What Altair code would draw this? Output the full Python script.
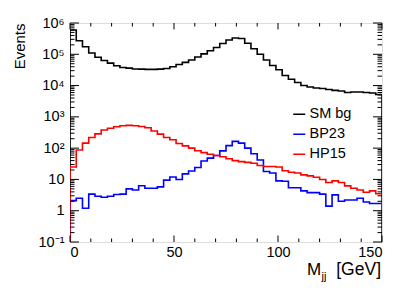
import altair as alt
import pandas as pd

# ---- data (50 bins of 3 GeV, 0..150 GeV) ----
bin_width = 3
sm_bg = [6.0e5, 2.7e5, 1.75e5, 1.1e5, 8.0e4, 6.3e4, 5.2e4, 4.3e4, 3.8e4, 3.6e4,
         3.4e4, 3.35e4, 3.3e4, 3.3e4, 3.35e4, 3.5e4, 4.0e4, 4.7e4, 5.5e4, 6.6e4,
         8.2e4, 1.03e5, 1.3e5, 1.65e5, 2.2e5, 2.85e5, 3.3e5, 3.2e5, 2.25e5, 1.5e5,
         1.0e5, 6.6e4, 4.4e4, 3.2e4, 2.1e4, 1.6e4, 1.25e4, 1.0e4, 9.0e3, 8.4e3,
         8.1e3, 7.5e3, 7.0e3, 6.7e3, 6.0e3, 6.2e3, 6.2e3, 6.0e3, 5.8e3, 5.2e3]
bp23 = [2.1, 2.5, 1.2, 3.4, 2.9, 2.7, 2.9, 3.3, 3.4, 5.0,
        4.6, 6.3, 5.2, 5.2, 5.8, 9.5, 12, 10, 15, 18.5,
        24, 39, 48, 58, 82, 120, 165, 145, 100, 66,
        42, 18, 16, 9, 8.7, 5.4, 5.4, 4.3, 3.8, 3.8,
        3.4, 1.4, 3.2, 2.0, 2.2, 2.2, 2.5, 1.9, 1.7, 1.7]
hp15 = [25, 87, 145, 220, 285, 380, 430, 485, 520, 535,
        520, 490, 450, 355, 280, 220, 185, 140, 118, 100,
        83, 72, 64, 58, 53, 46, 40, 37, 35, 33,
        28, 26, 26, 25, 19, 17, 16, 14, 13, 11.8,
        10, 8, 9, 8, 6.2, 5.2, 4.6, 3.9, 4.3, 3.5]
series_names = ["SM bg", "BP23", "HP15"]
series_colors = ["#000000", "#0000ff", "#ff0000"]
y_min, y_max = 0.1, 1e6
x_min, x_max = 0, 150

W, H = 312, 219
FONT = "Liberation Sans"

rows = []
for name, vals in zip(series_names, [sm_bg, bp23, hp15]):
    pts = [(0, y_min)]
    for i, v in enumerate(vals):
        pts.append((i * bin_width, v))
    pts.append((len(vals) * bin_width, vals[-1]))
    pts.append((len(vals) * bin_width, y_min))
    for k, (xx, yy) in enumerate(pts):
        rows.append({"series": name, "x": xx, "y": yy, "o": k})
df = pd.DataFrame(rows)

xs = alt.Scale(domain=[x_min, x_max], nice=False, zero=False)
ys = alt.Scale(type="log", domain=[y_min, y_max], nice=False)
cs = alt.Scale(domain=series_names, range=series_colors)

label_expr = ("datum.value == 1 ? '1' : datum.value == 10 ? '10' : "
              "datum.value < 0.5 ? '10⁻¹' : datum.value == 100 ? '10²' : "
              "datum.value == 1000 ? '10³' : datum.value == 10000 ? '10⁴' : "
              "datum.value == 100000 ? '10⁵' : '10⁶'")

def hist_layer(name):
    return alt.Chart(df).transform_filter(alt.datum.series == name).mark_line(
        interpolate="step-after", strokeWidth=1.6, clip=True
    ).encode(
        x=alt.X("x:Q", scale=xs, axis=alt.Axis(values=[0, 50, 100, 150], ticks=False, grid=False,
                                                domain=False, labelFontSize=14.5, labelFont=FONT,
                                                labelColor="black", labelPadding=3, title=None)),
        y=alt.Y("y:Q", scale=ys, axis=alt.Axis(values=[0.1, 1, 10, 100, 1e3, 1e4, 1e5, 1e6],
                                                labelExpr=label_expr, ticks=False, grid=False,
                                                domain=False, labelFontSize=14.5, labelFont=FONT,
                                                labelColor="black", labelPadding=6,
                                                title="Events", titleFont=FONT, titleFontSize=15,
                                                titleFontWeight="normal", titleColor="black",
                                                titleAnchor="end", titleAngle=270,
                                                titleAlign="right", titleBaseline="alphabetic",
                                                titleX=-46, titleY=0)),
        color=alt.Color("series:N", scale=cs, legend=alt.Legend(
            orient="none", legendX=222, legendY=84, title=None, symbolType="stroke",
            symbolStrokeWidth=1.5, symbolSize=144, labelFontSize=14.5, labelFont=FONT,
            labelColor="black", labelOffset=3, rowPadding=5, padding=0)),
        order="o:Q",
    )

xt_major = pd.DataFrame({"v": [v for v in range(0, 151, 50)]})
xt_minor = pd.DataFrame({"v": [v for v in range(0, 151, 10) if v % 50 != 0]})
yt_major = pd.DataFrame({"v": [0.1, 1, 10, 100, 1e3, 1e4, 1e5, 1e6]})
yt_minor = pd.DataFrame({"v": [m * 10.0 ** k for k in range(-1, 6) for m in range(2, 10)]})

def xticks(d, ln):
    b = alt.Chart(d).mark_rule(color="black", strokeWidth=1).encode(
        x=alt.X("v:Q", scale=xs), y=alt.value(H), y2=alt.value(H - ln))
    t = alt.Chart(d).mark_rule(color="black", strokeWidth=1).encode(
        x=alt.X("v:Q", scale=xs), y=alt.value(0), y2=alt.value(ln))
    return [b, t]

def yticks(d, ln):
    l = alt.Chart(d).mark_rule(color="black", strokeWidth=1).encode(
        y=alt.Y("v:Q", scale=ys), x=alt.value(0), x2=alt.value(ln))
    r = alt.Chart(d).mark_rule(color="black", strokeWidth=1).encode(
        y=alt.Y("v:Q", scale=ys), x=alt.value(W - ln), x2=alt.value(W))
    return [l, r]

tick_layers = xticks(xt_major, 6.5) + xticks(xt_minor, 3.5) + yticks(yt_major, 9) + yticks(yt_minor, 4.5)

one = pd.DataFrame({"t": [""]})
def txt(s, x, y, size, align="left", baseline="alphabetic"):
    return alt.Chart(one).mark_text(text=s, font=FONT, fontSize=size, color="black",
                                    align=align, baseline=baseline).encode(
        x=alt.value(x), y=alt.value(y))

titles = [
    txt("M", 237, 252, 17),
    txt("jj", 251.5, 257, 11),
    txt("[GeV]", 311, 252, 17.5, align="right"),
]

chart = alt.layer(
    hist_layer("SM bg"), hist_layer("BP23"), hist_layer("HP15"), *tick_layers, *titles
).properties(
    width=W, height=H,
    autosize=alt.AutoSizeParams(type="none"),
    padding={"left": 62, "top": 15, "right": 25, "bottom": 40},
).configure_view(stroke="black", strokeWidth=1).configure(background="white")

chart.save("out.html", embed_options={"renderer": "svg", "actions": False})
